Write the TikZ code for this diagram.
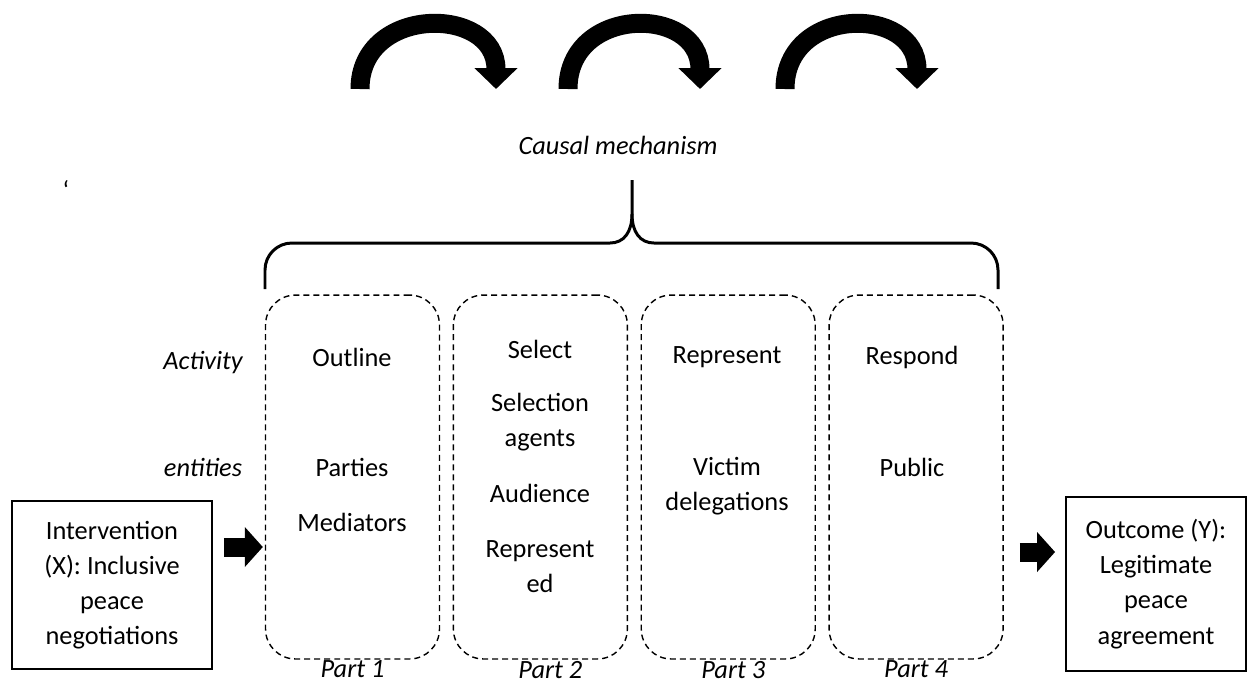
\documentclass[tikz,border=0pt]{standalone}
\usepackage{fontspec}
\setmainfont{Carlito}
\usepackage{tikz}
\usetikzlibrary{positioning,arrows.meta}

\begin{document}
\begin{tikzpicture}[x=0.02cm, y=-0.02cm, node distance=0.25cm,
  every node/.style={font=\fontsize{15}{20}\selectfont, align=center, inner sep=0pt},
  slant/.style={font=\fontsize{15}{20}\selectfont\itshape},
  partbox/.style={draw, dash pattern=on 3.4pt off 2.3pt, line width=0.8pt, rounded corners=0.6cm, minimum width=3.48cm, minimum height=7.28cm},
  endbox/.style={draw, line width=1.1pt},
  turn/.style={line width=0.38cm, -{Triangle[width=0.84cm,length=0.42cm]}},
  push/.style={line width=0.38cm, -{Triangle[width=0.78cm,length=0.36cm]}}]
\useasboundingbox (0,0) rectangle (1250,681);

% curved arrows on top
\foreach \a/\b in {360/496, 568/700, 785/917}
  \draw[turn] (\a,89) .. controls (\a,5) and (\b,5) .. (\b,89);
\node[slant] (cm) at (618,145) {Causal mechanism};
\node (tick) at (66,190) {`};

% the four parts
\node[partbox] (p1) at (352.5,477) {};
\node[partbox, right=of p1] (p2) {};
\node[partbox, right=of p2] (p3) {};
\node[partbox, right=of p3] (p4) {};
\node[slant, below=0.02cm of p1] (l1) {Part 1};
\node[slant, below=0.02cm of p2, xshift=0.2cm] (l2) {Part 2};
\node[slant, below=0.02cm of p3, xshift=0.1cm] (l3) {Part 3};
\node[slant, below=0.02cm of p4] (l4) {Part 4};

% brace
\coordinate (tip) at (632,180);
\draw[line width=1.7pt] (265,289) -- (265,270) to[out=90,in=180] (292,243) -- (610,243)
  .. controls (624,243) and (632,232) .. (632,214) -- (tip);
\draw[line width=1.7pt] (632,214) .. controls (632,232) and (640,243) .. (654,243) -- (971,243)
  to[out=0,in=90] (998,270) -- (998,289);

% row labels
\node[slant] (act) at (203,363) {Activity};
\node[slant] (ent) at (203,467) {entities};

% activities and entities
\node (a1) at (352,357) {Outline};
\node (e1) at (352,467) {Parties};
\node (m1) at (352,522) {Mediators};
\node (a2) at (540,349) {Select};
\node (e2) at (540,422) {Selection\\agents};
\node (m2) at (540,493) {Audience};
\node (r2) at (540,567) {Represent\\ed};
\node (a3) at (727,357) {Represent};
\node (e3) at (727,486) {Victim\\delegations};
\node (a4) at (912,357) {Respond};
\node (e4) at (912,467) {Public};

% input and outcome
\node[endbox, minimum width=4cm, minimum height=3.36cm] (inp) at (112,585) {Intervention\\(X): Inclusive\\peace\\negotiations};
\node[endbox, minimum width=3.6cm, minimum height=3.48cm] (out) at (1156,584) {Outcome (Y):\\Legitimate\\peace\\agreement};
\draw[push] ([shift={(11,-38)}]inp.east) -- ([shift={(-2,70)}]p1.west);
\draw[push] ([shift={(16,75)}]p4.east) -- ([shift={(-10,-32)}]out.west);
\end{tikzpicture}
\end{document}
